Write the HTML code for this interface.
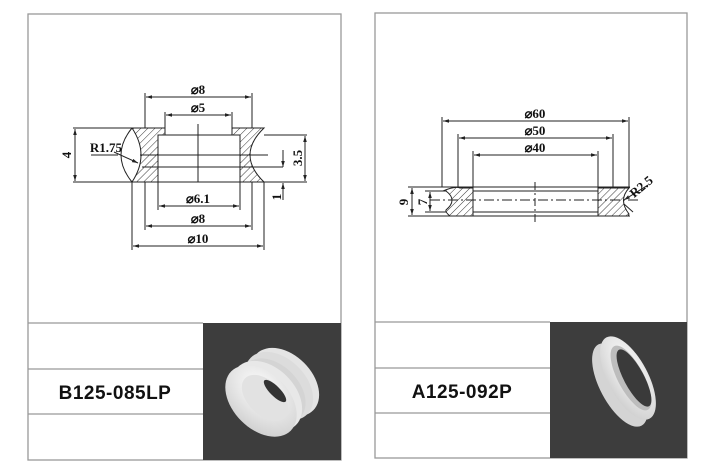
<!DOCTYPE html>
<html><head><meta charset="utf-8"><style>
body{margin:0;width:718px;height:470px;background:#fff;overflow:hidden;font-family:"Liberation Sans",sans-serif}
</style></head><body>
<svg width="718" height="470" viewBox="0 0 718 470" xmlns="http://www.w3.org/2000/svg">
<defs>
<pattern id="h" width="5" height="5" patternUnits="userSpaceOnUse" patternTransform="rotate(45)"><line x1="0" y1="0" x2="0" y2="5" stroke="#222" stroke-width="0.9"/></pattern>
<marker id="a" viewBox="0 0 10 10" refX="10" refY="5" markerWidth="6" markerHeight="6" orient="auto-start-reverse"><path d="M0,2 L10,5 L0,8z" fill="#222"/></marker>
<radialGradient id="g1" cx="40%" cy="35%" r="70%"><stop offset="0" stop-color="#fff"/><stop offset="1" stop-color="#d0d0d0"/></radialGradient>
</defs>
<g fill="none" stroke="#999" stroke-width="1.3">
<rect x="28" y="14" width="313" height="446"/>
<rect x="375" y="13" width="312" height="445"/>
<line x1="28" y1="323" x2="203" y2="323"/><line x1="28" y1="369" x2="203" y2="369"/><line x1="28" y1="414" x2="203" y2="414"/>
<line x1="375" y1="322" x2="550" y2="322"/><line x1="375" y1="368" x2="550" y2="368"/><line x1="375" y1="413" x2="550" y2="413"/>
</g>
<rect x="203" y="323" width="138" height="137" fill="#3d3d3d"/>
<rect x="550" y="322" width="137" height="136" fill="#3d3d3d"/>
<text x="115" y="399" font-size="19" font-weight="bold" text-anchor="middle" fill="#111" letter-spacing="0.5">B125-085LP</text>
<text x="462" y="398" font-size="19" font-weight="bold" text-anchor="middle" fill="#111" letter-spacing="0.5">A125-092P</text>
<!-- left image -->
<g>
<ellipse cx="285" cy="382" rx="40" ry="27" transform="rotate(45 285 382)" fill="#e4e4e4"/>
<ellipse cx="279" cy="386" rx="40" ry="27" transform="rotate(45 279 386)" fill="#dcdcdc"/>
<ellipse cx="273" cy="391" rx="38" ry="26" transform="rotate(45 273 391)" fill="#d4d4d4"/>
<ellipse cx="267" cy="396" rx="41" ry="28" transform="rotate(45 267 396)" fill="#e8e8e8"/>
<ellipse cx="261" cy="401" rx="42" ry="28" transform="rotate(45 261 401)" fill="url(#g1)"/>
<ellipse cx="265" cy="398" rx="28" ry="17" transform="rotate(45 265 398)" fill="#e2e2e2"/>
<ellipse cx="275" cy="391" rx="15" ry="5" transform="rotate(45 275 391)" fill="#333"/>
</g>
<!-- right image -->
<g>
<ellipse cx="620" cy="385" rx="46" ry="20" transform="rotate(62 620 385)" fill="#d4d4d4"/>
<ellipse cx="628" cy="378" rx="46" ry="20" transform="rotate(62 628 378)" fill="url(#g1)"/>
<ellipse cx="631" cy="378" rx="36" ry="13" transform="rotate(62 631 378)" fill="#bdbdbd"/>
<ellipse cx="634" cy="378" rx="32" ry="10" transform="rotate(62 634 378)" fill="#3a3a3a"/>
</g>
<!-- left drawing -->
<g stroke="#222" stroke-width="1" fill="none">
<path d="M132,128 L165,128 L165,135 L158,135 L158,182 L132,182 Q150,155 132,128 Z" fill="url(#h)"/>
<path d="M232,128 L264,128 Q236,155 264,182 L240,182 L240,135 L232,135 Z" fill="url(#h)"/>
<path d="M132,128 Q110,155 132,182"/>
<line x1="73" y1="128" x2="132" y2="128"/><line x1="73" y1="182" x2="307" y2="182"/>
<line x1="264" y1="135" x2="307" y2="135"/>
<line x1="158" y1="135" x2="240" y2="135"/>
<line x1="140" y1="155" x2="268" y2="155"/><line x1="142" y1="167" x2="283" y2="167"/>
<line x1="198" y1="124" x2="198" y2="182"/>
<line x1="145" y1="93" x2="145" y2="128"/><line x1="252" y1="93" x2="252" y2="128"/>
<line x1="165" y1="112" x2="165" y2="128"/><line x1="232" y1="112" x2="232" y2="128"/>
<line x1="145" y1="182" x2="145" y2="230"/><line x1="252" y1="182" x2="252" y2="230"/>
<line x1="158" y1="182" x2="158" y2="210"/><line x1="240" y1="182" x2="240" y2="210"/>
<line x1="132" y1="182" x2="132" y2="250"/><line x1="264" y1="182" x2="264" y2="250"/>
<line x1="146" y1="97" x2="251" y2="97" marker-start="url(#a)" marker-end="url(#a)"/>
<line x1="166" y1="115" x2="231" y2="115" marker-start="url(#a)" marker-end="url(#a)"/>
<line x1="159" y1="206" x2="239" y2="206" marker-start="url(#a)" marker-end="url(#a)"/>
<line x1="146" y1="226" x2="251" y2="226" marker-start="url(#a)" marker-end="url(#a)"/>
<line x1="133" y1="246" x2="263" y2="246" marker-start="url(#a)" marker-end="url(#a)"/>
<line x1="75" y1="129" x2="75" y2="181" marker-start="url(#a)" marker-end="url(#a)"/>
<line x1="305" y1="136" x2="305" y2="181" marker-start="url(#a)" marker-end="url(#a)"/>
<line x1="283" y1="150" x2="283" y2="167" marker-end="url(#a)"/>
<line x1="283" y1="200" x2="283" y2="183" marker-end="url(#a)"/>
<line x1="91" y1="155" x2="118" y2="155"/><line x1="114" y1="152" x2="138" y2="163" marker-end="url(#a)"/>
</g>
<g font-family="Liberation Serif" font-size="13" fill="#111" font-weight="bold" text-anchor="middle">
<text x="198" y="94">⌀8</text><text x="198" y="112">⌀5</text>
<text x="198" y="203">⌀6.1</text><text x="198" y="223">⌀8</text><text x="198" y="243">⌀10</text>
<text x="106" y="152">R1.75</text>
<text transform="translate(71 155) rotate(-90)">4</text>
<text transform="translate(302 158) rotate(-90)">3.5</text>
<text transform="translate(281 197) rotate(-90)">1</text>
</g>
<!-- right drawing -->
<g stroke="#222" stroke-width="1" fill="none">
<path d="M443,191 Q455,186 460,188 L473,188 L473,216 L450,216 Q445,212 446,210 Q458,200 446,191 Z" fill="url(#h)"/>
<path d="M598,188 L629,188 Q618,200 629,214 L628,216 L598,216 Z" fill="url(#h)"/>
<line x1="408" y1="187" x2="630" y2="187"/><line x1="408" y1="216" x2="630" y2="216"/>
<line x1="473" y1="191" x2="598" y2="191"/><line x1="473" y1="212" x2="598" y2="212"/>
<line x1="425" y1="191" x2="446" y2="191"/><line x1="425" y1="212" x2="446" y2="212"/>
<line x1="430" y1="200" x2="640" y2="200" stroke-dasharray="10 3 2 3"/>
<line x1="535" y1="182" x2="535" y2="222" stroke-dasharray="8 3 2 3"/>
<line x1="442" y1="117" x2="442" y2="187"/><line x1="629" y1="117" x2="629" y2="187"/>
<line x1="458" y1="134" x2="458" y2="187"/><line x1="613" y1="134" x2="613" y2="187"/>
<line x1="473" y1="151" x2="473" y2="187"/><line x1="598" y1="151" x2="598" y2="187"/>
<line x1="443" y1="121" x2="628" y2="121" marker-start="url(#a)" marker-end="url(#a)"/>
<line x1="459" y1="138" x2="612" y2="138" marker-start="url(#a)" marker-end="url(#a)"/>
<line x1="474" y1="155" x2="597" y2="155" marker-start="url(#a)" marker-end="url(#a)"/>
<line x1="412" y1="188" x2="412" y2="215" marker-start="url(#a)" marker-end="url(#a)"/>
<line x1="430" y1="192" x2="430" y2="211" marker-start="url(#a)" marker-end="url(#a)"/>
<line x1="648" y1="185" x2="624" y2="200" marker-end="url(#a)"/>
<line x1="624" y1="204" x2="633" y2="212"/>
</g>
<g font-family="Liberation Serif" font-size="13" fill="#111" font-weight="bold" text-anchor="middle">
<text x="535" y="118">⌀60</text><text x="535" y="135">⌀50</text><text x="535" y="152">⌀40</text>
<text transform="translate(408 202) rotate(-90)">9</text>
<text transform="translate(427 202) rotate(-90)">7</text>
<text transform="translate(644 190) rotate(-40)">R2.5</text>
</g>
</svg>
</body></html>
